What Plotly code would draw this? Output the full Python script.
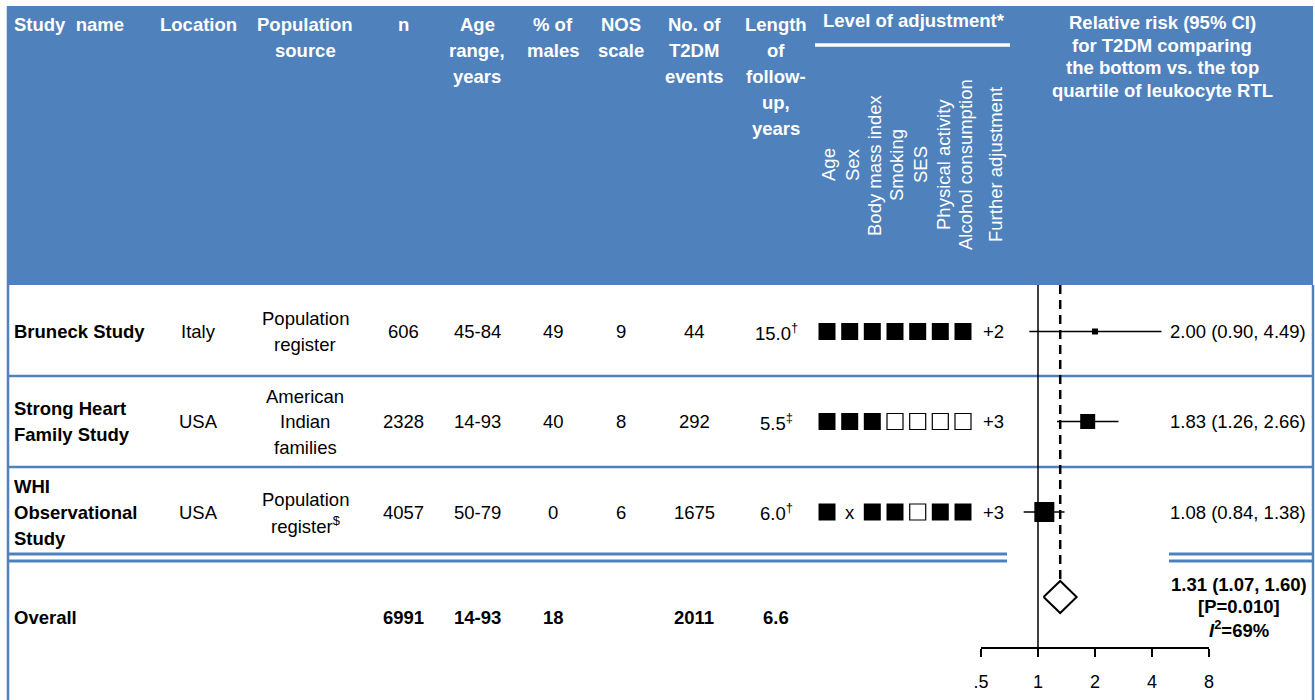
import math
import plotly.graph_objects as go

# ---------------- data ----------------
study_names = ["Bruneck Study", "Strong Heart<br>Family Study", "WHI<br>Observational<br>Study"]
locations = ["Italy", "USA", "USA"]
pop_sources = ["Population<br>register", "American<br>Indian<br>families", "Population<br>register<sup>$</sup>"]
n_participants = [606, 2328, 4057]
age_ranges = ["45-84", "14-93", "50-79"]
pct_males = [49, 40, 0]
nos_scores = [9, 8, 6]
t2dm_events = [44, 292, 1675]
followup_years = ["15.0", "5.5", "6.0"]
followup_marks = ["†", "‡", "†"]
adjust_factors = ["Age", "Sex", "Body mass index", "Smoking", "SES",
                  "Physical activity", "Alcohol consumption", "Further adjustment"]
# 1 = adjusted (filled), 0 = not adjusted (open), None = not applicable (x)
adjust_status = [[1, 1, 1, 1, 1, 1, 1],
                 [1, 1, 1, 0, 0, 0, 0],
                 [1, None, 1, 1, 0, 1, 1]]
further_adj = ["+2", "+3", "+3"]
rr = [2.00, 1.83, 1.08]
rr_lo = [0.90, 1.26, 0.84]
rr_hi = [4.49, 2.66, 1.38]

overall_n = 6991
overall_age = "14-93"
overall_males = 18
overall_events = 2011
overall_followup = 6.6
pooled_rr = 1.31
pooled_lo = 1.07
pooled_hi = 1.60
pooled_p = "0.010"
pooled_i2 = 69

axis_ticks = [0.5, 1, 2, 4, 8]
axis_ticktext = [".5", "1", "2", "4", "8"]

# ---------------- layout constants ----------------
W, H = 1315, 700
FONT = "Arial, Liberation Sans, sans-serif"
BLUE = "#4F81BD"
BODY = 18.5
ROW_Y = [331.5, 421.5, 512]
OVERALL_Y = 617
DIAMOND_Y = 597
DIAMOND_HALF = 16
HEADER_BOTTOM = 285
AXIS_Y = 648
COL = dict(loc=198, pop=305, n=403, age=477, males=553, nos=621, events=694, follow=776)
ADJ_X = [827, 849.7, 872.3, 895, 917.7, 940.3, 963]
ADJ_LABEL_X = [828, 852, 874, 896, 920, 943, 965, 995]
FURTHER_X = 993
MARKER_SIZES = [6, 15, 20]

fig = go.Figure()


def text(x, y, t, size=BODY, color="black", bold=False, xanchor="center",
         spacing=25.5, angle=0):
    lines = t.split("<br>")
    k = len(lines)
    for i, ln in enumerate(lines):
        yy = y + (i - (k - 1) / 2) * spacing
        fig.add_annotation(x=x, y=yy, xref="x", yref="y",
                           text=f"<b>{ln}</b>" if bold else ln,
                           showarrow=False, xanchor=xanchor, yanchor="middle",
                           textangle=angle, borderpad=0,
                           font=dict(size=size, color=color, family=FONT))


def header(x, top, t, spacing=26, xanchor="center", size=18.5):
    k = len(t.split("<br>"))
    text(x, top + (k - 1) / 2 * spacing, t, size=size, color="white",
         bold=True, xanchor=xanchor, spacing=spacing)


# ---------------- background shapes ----------------
fig.add_shape(type="rect", x0=8, x1=1313, y0=6, y1=HEADER_BOTTOM,
              xref="x", yref="y", fillcolor=BLUE, line=dict(width=0), layer="below")
for yy in (376, 467):
    fig.add_shape(type="line", x0=8, x1=1313, y0=yy, y1=yy, xref="x", yref="y",
                  line=dict(color=BLUE, width=2.5), layer="below")
for yy in (554, 561):
    for xa, xb in ((8, 1007), (1169, 1313)):
        fig.add_shape(type="line", x0=xa, x1=xb, y0=yy, y1=yy, xref="x", yref="y",
                      line=dict(color=BLUE, width=3), layer="below")
for xx in (8, 1313):
    fig.add_shape(type="line", x0=xx, x1=xx, y0=6 if xx == 8 else HEADER_BOTTOM, y1=700,
                  xref="x", yref="y", line=dict(color=BLUE, width=2.5), layer="below")
fig.add_shape(type="line", x0=815, x1=1010, y0=45, y1=45, xref="x", yref="y",
              line=dict(color="white", width=3.5))

# ---------------- headers ----------------
header(13, 24, "Study\u00a0 name", xanchor="left")
header(COL["loc"], 24, "Location")
header(COL["pop"], 24, "Population<br>source")
header(COL["n"], 24, "n")
header(COL["age"], 24, "Age<br>range,<br>years")
header(COL["males"], 24, "% of<br>males")
header(COL["nos"], 24, "NOS<br>scale")
header(COL["events"], 24, "No. of<br>T2DM<br>events")
header(COL["follow"], 24, "Length<br>of<br>follow-<br>up,<br>years")
header(822, 20, "Level of adjustment*", xanchor="left")
header(1162, 22.7, "Relative risk (95% CI)<br>for T2DM comparing<br>the bottom vs. the top<br>quartile of leukocyte RTL",
       spacing=22.5)
for lx, lab in zip(ADJ_LABEL_X, adjust_factors):
    text(lx, 165, lab, size=18.5, color="white", angle=-90)

# ---------------- study rows ----------------
for i, y in enumerate(ROW_Y):
    text(13, y, study_names[i], bold=True, xanchor="left", spacing=26)
    text(COL["loc"], y, locations[i])
    text(COL["pop"], y, pop_sources[i], spacing=25.5)
    text(COL["n"], y, str(n_participants[i]))
    text(COL["age"], y, age_ranges[i])
    text(COL["males"], y, str(pct_males[i]))
    text(COL["nos"], y, str(nos_scores[i]))
    text(COL["events"], y, str(t2dm_events[i]))
    text(COL["follow"], y, f"{followup_years[i]}<sup>{followup_marks[i]}</sup>")
    text(FURTHER_X, y, further_adj[i])
    text(1307, y, f"{rr[i]:.2f} ({rr_lo[i]:.2f}, {rr_hi[i]:.2f})", xanchor="right")

# adjustment squares
fx, fy, ox, oy = [], [], [], []
for i, y in enumerate(ROW_Y):
    for j, s in enumerate(adjust_status[i]):
        if s == 1:
            fx.append(ADJ_X[j]); fy.append(y)
        elif s == 0:
            ox.append(ADJ_X[j]); oy.append(y)
        else:
            text(ADJ_X[j], y, "x")
fig.add_trace(go.Scatter(x=fx, y=fy, mode="markers", xaxis="x", yaxis="y",
                         marker=dict(symbol="square", size=17, color="black", opacity=1,
                                     line=dict(width=0)), hoverinfo="skip"))
fig.add_trace(go.Scatter(x=ox, y=oy, mode="markers", xaxis="x", yaxis="y",
                         marker=dict(symbol="square-open", size=16, color="black", opacity=1,
                                     line=dict(width=1.2)), hoverinfo="skip"))

# ---------------- overall row ----------------
text(13, OVERALL_Y, "Overall", bold=True, xanchor="left")
text(COL["n"], OVERALL_Y, str(overall_n), bold=True)
text(COL["age"], OVERALL_Y, overall_age, bold=True)
text(COL["males"], OVERALL_Y, str(overall_males), bold=True)
text(COL["events"], OVERALL_Y, str(overall_events), bold=True)
text(COL["follow"], OVERALL_Y, f"{overall_followup}", bold=True)
text(1238.5, 584.7, f"{pooled_rr:.2f} ({pooled_lo:.2f}, {pooled_hi:.2f})", bold=True)
text(1238.5, 606.7, f"[P={pooled_p}]", bold=True)
text(1238.5, 628.5, f"<i>I</i><sup>2</sup>={pooled_i2}%", bold=True)

# ---------------- forest plot ----------------
fig.add_trace(go.Scatter(x=[1, 1], y=[HEADER_BOTTOM, AXIS_Y], mode="lines",
                         xaxis="x2", yaxis="y", line=dict(color="black", width=1.5),
                         hoverinfo="skip"))
fig.add_trace(go.Scatter(x=[pooled_rr, pooled_rr], y=[HEADER_BOTTOM, DIAMOND_Y - DIAMOND_HALF],
                         mode="lines", xaxis="x2", yaxis="y",
                         line=dict(color="black", width=2.5, dash="9px,6px"),
                         hoverinfo="skip"))
cx, cy = [], []
for i, y in enumerate(ROW_Y):
    cx += [rr_lo[i], rr_hi[i], None]
    cy += [y, y, None]
fig.add_trace(go.Scatter(x=cx, y=cy, mode="lines", xaxis="x2", yaxis="y",
                         line=dict(color="black", width=1.5), hoverinfo="skip"))
fig.add_trace(go.Scatter(x=rr, y=ROW_Y, mode="markers", xaxis="x2", yaxis="y",
                         marker=dict(symbol="square", size=MARKER_SIZES, color="black",
                                     opacity=1, line=dict(width=0)), hoverinfo="skip"))
fig.add_trace(go.Scatter(x=[pooled_lo, pooled_rr, pooled_hi, pooled_rr, pooled_lo],
                         y=[DIAMOND_Y, DIAMOND_Y - DIAMOND_HALF, DIAMOND_Y,
                            DIAMOND_Y + DIAMOND_HALF, DIAMOND_Y],
                         mode="lines", fill="toself", fillcolor="white",
                         xaxis="x2", yaxis="y", line=dict(color="black", width=2),
                         hoverinfo="skip"))

fig.update_layout(
    width=W, height=H, margin=dict(l=0, r=0, t=0, b=0, pad=0), autosize=False,
    paper_bgcolor="white", plot_bgcolor="rgba(0,0,0,0)",
    showlegend=False,
    xaxis=dict(range=[0, W], domain=[0, 1], visible=False, fixedrange=True),
    yaxis=dict(range=[H, 0], domain=[0, 1], visible=False, fixedrange=True),
    xaxis2=dict(type="log", domain=[981 / W, 1209 / W],
                range=[math.log10(axis_ticks[0]), math.log10(axis_ticks[-1])],
                anchor="free", position=1 - AXIS_Y / H,
                showline=True, linecolor="black", linewidth=1.5,
                ticks="outside", ticklen=8, tickwidth=1.5, tickcolor="black",
                tickvals=axis_ticks, ticktext=axis_ticktext,
                tickfont=dict(size=18, color="black", family=FONT),
                ticklabelstandoff=10, automargin=False,
                showgrid=False, zeroline=False, fixedrange=True),
)

fig.write_html("out.html", config={"responsive": False, "displayModeBar": False},
               post_script="document.body.style.margin='0';")
